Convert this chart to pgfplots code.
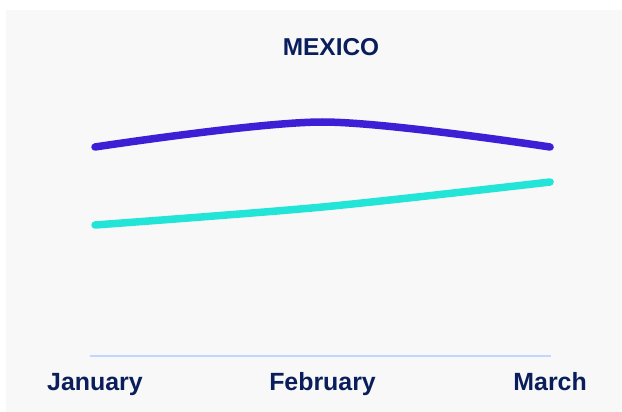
\documentclass[border=0pt]{standalone}
\usepackage{pgfplots}
\pgfplotsset{compat=1.18}
\usepackage{fontspec}
\setmainfont{Liberation Sans}
\definecolor{navy}{HTML}{0A1E5C}
\definecolor{purp}{HTML}{3D1FD6}
\definecolor{cyanl}{HTML}{22E5D8}
\definecolor{basec}{HTML}{C2D6FF}
\definecolor{panel}{HTML}{F8F8F8}
\begin{document}
\begin{tikzpicture}
\path[use as bounding box, fill=white] (0,0) rectangle (622bp,412bp);
\fill[panel] (6bp,0) rectangle (622bp,402bp);
\node[font=\fontsize{24.5}{27}\selectfont\bfseries, text=navy] at (331bp,364.5bp) {MEXICO};
\begin{axis}[
  at={(90bp,56bp)}, anchor=south west,
  scale only axis, width=461bp, height=300bp,
  xmin=-0.022, xmax=2.004, ymin=0, ymax=300,
  axis x line=bottom, axis y line=none,
  x axis line style={color=basec, line width=1.5bp, -},
  xtick={0,1,2}, xticklabels={January,February,March},
  major tick length=0pt,
  xticklabel style={anchor=base, yshift=-34bp, text=navy, font=\fontsize{25}{28}\selectfont\bfseries},
  ytick=\empty,
  clip=false,
]
\addplot[color=purp, line width=7.5bp, line cap=round, smooth] coordinates {(0,209) (1,234) (2,209)};
\addplot[color=cyanl, line width=7.5bp, line cap=round, smooth] coordinates {(0,131) (1,149) (2,174)};
\end{axis}
\end{tikzpicture}
\end{document}
